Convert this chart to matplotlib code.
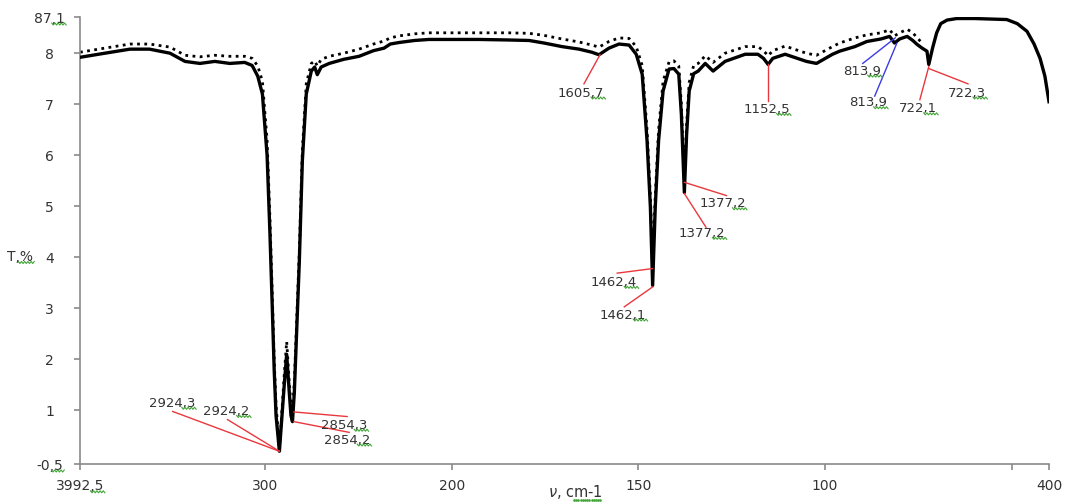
import numpy as np
import matplotlib
matplotlib.use("Agg")
import matplotlib.pyplot as plt
from matplotlib.lines import Line2D
from matplotlib.transforms import IdentityTransform

# ---- data ----
wavenumber = [3992.5, 3860, 3725, 3620, 3510, 3430, 3350, 3270, 3190, 3110, 3070, 3040, 3015,
              2990, 2975, 2962, 2952, 2942, 2933, 2924, 2912, 2898, 2885, 2872, 2862, 2854,
              2844, 2832, 2817, 2801, 2780, 2753, 2735, 2721, 2700, 2657, 2580, 2497, 2420,
              2363, 2330, 2283, 2200, 2123, 2000, 1927, 1850, 1793, 1753, 1705, 1659, 1625,
              1605.7, 1579, 1552, 1525, 1506, 1490, 1477, 1468, 1462, 1455, 1446, 1434, 1418,
              1405, 1392, 1385, 1377, 1371, 1364, 1352, 1340, 1321, 1300, 1268, 1214, 1180,
              1165, 1152.5, 1140, 1107, 1050, 1023, 980, 961, 920, 888, 850, 827, 813.9, 800,
              780, 765, 753, 740,
              727, 722.1, 712, 701, 690, 673, 647, 600, 513, 485, 459, 440, 424, 411, 400]

t_solid = [79.2, 80.0, 80.8, 80.8, 80.0, 78.4, 78.0, 78.4, 78.0, 78.2, 77.6, 75.5, 72.0,
           60.0, 45.0, 30.0, 18.0, 9.0, 5.5, 2.0, 8.0, 15.0, 21.0, 14.0, 9.0, 7.8,
           13.5, 25.0, 39.4, 58.9, 72.0, 76.5, 77.3, 75.8, 77.3, 78.0, 78.8, 79.4, 80.5,
           81.0, 81.8, 82.1, 82.5, 82.7, 82.7, 82.7, 82.6, 82.5, 82.0, 81.3, 80.8, 80.2,
           79.7, 81.0, 81.8, 81.6, 79.8, 75.9, 62.9, 49.8, 34.5, 49.8, 62.9, 72.6, 76.9,
           77.0, 75.9, 68.0, 52.7, 64.0, 72.6, 76.0, 76.5, 78.0, 76.5, 78.4, 79.8, 79.8,
           79.0, 77.8, 79.0, 79.8, 78.4, 78.0, 79.8, 80.4, 81.3, 82.3, 82.8, 83.3, 82.0, 82.8,
           83.3, 82.5, 81.7, 81.0,
           80.4, 77.8, 81.0, 84.0, 85.8, 86.5, 86.8, 86.8, 86.6, 85.8, 84.3, 81.8, 79.0, 75.5, 70.5]

t_dotted = [80.2, 81.0, 81.8, 81.8, 81.2, 79.6, 79.3, 79.6, 79.4, 79.4, 79.0, 77.5, 74.5,
            63.0, 48.0, 32.5, 20.0, 11.0, 7.0, 2.3, 9.0, 17.0, 23.5, 16.0, 11.0, 9.7,
            15.5, 27.0, 41.5, 61.0, 74.0, 78.0, 78.5, 77.5, 78.8, 79.4, 80.0, 80.8, 81.8,
            82.4, 83.0, 83.4, 83.8, 84.0, 84.0, 84.0, 84.0, 83.9, 83.5, 82.8, 82.2, 81.6,
            81.2, 82.3, 83.0, 82.9, 81.3, 77.6, 65.0, 52.0, 37.8, 52.0, 65.0, 74.5, 78.3,
            78.5, 77.5, 70.0, 54.7, 66.0, 74.3, 77.6, 78.0, 79.5, 78.2, 80.0, 81.3, 81.3,
            80.5, 79.5, 80.5, 81.4, 80.0, 79.6, 81.3, 82.0, 83.0, 83.6, 84.0, 84.6, 83.4, 84.0,
            84.7, 84.0, 83.0, 82.0]

x_ticks = [3992.5, 3000, 2000, 1500, 1000, 500, 400]
x_tick_labels = ['3992,5', '300', '200', '150', '100', '', '400']
y_ticks = [-0.5, 10, 20, 30, 40, 50, 60, 70, 80, 87.1]
y_tick_labels = ['-0,5', '1', '2', '3', '4', '5', '6', '7', '8', '87,1']

# peak annotations: text, peak (wn, T), line start (wn, T), text position (wn, T), colour
annotations = [
    ('2924,3', (2924, 2.0), (3496, 9.8), (3501, 11.4), 'red'),
    ('2924,2', (2924, 2.0), (3202, 8.2), (3207, 9.8), 'red'),
    ('2854,3', (2846, 9.7), (2561, 8.8), (2577, 7.1), 'red'),
    ('2854,2', (2846, 7.8), (2550, 5.7), (2561, 4.2), 'red'),
    ('1605,7', (1603, 79.7), (1646, 74.0), (1654, 72.2), 'red'),
    ('1462,4', (1462, 37.8), (1557, 36.9), (1565, 35.1), 'red'),
    ('1462,1', (1462, 34.2), (1538, 30.3), (1541, 28.7), 'red'),
    ('1377,2', (1377, 54.7), (1264, 52.1), (1275, 50.5), 'red'),
    ('1377,2', (1377, 52.5), (1319, 45.9), (1329, 44.7), 'red'),
    ('1152,5', (1152.5, 77.8), (1152.5, 70.6), (1157, 69.0), 'red'),
    ('813,9', (812, 83.0), (899, 78.0), (902, 76.5), 'blue'),
    ('813,9', (808, 81.9), (867, 71.6), (886, 70.3), 'blue'),
    ('722,1', (722, 77.4), (746, 70.9), (752, 69.1), 'red'),
    ('722,3', (722, 77.0), (617, 74.0), (620, 72.2), 'red'),
]
line_colors = {'red': '#e8383d', 'blue': '#3b3be6'}

# ---- figure ----
plt.rcParams['font.family'] = ['DejaVu Sans']
fig = plt.figure(figsize=(10.66, 5.04), dpi=100)
ax = fig.add_axes([80 / 1066, 40 / 504, 969 / 1066, 447 / 504])


def fwd(w):
    w = np.asarray(w, dtype=float)
    return np.where(w <= 2000, 2 * w, w + 2000)


def inv(u):
    u = np.asarray(u, dtype=float)
    return np.where(u <= 4000, u / 2, u - 2000)


ax.set_xscale('function', functions=(fwd, inv))

ax.plot(wavenumber[:len(t_dotted)], t_dotted, color='black', lw=2.0,
        linestyle=(0, (1, 1.6)), zorder=2)
ax.plot(wavenumber, t_solid, color='black', lw=2.4, solid_joinstyle='round', zorder=3)

label_texts = []
for text, peak, start, tpos, col in annotations:
    ax.plot([start[0], peak[0]], [start[1], peak[1]], color=line_colors[col], lw=1.0, zorder=4)
    label_texts.append(ax.text(tpos[0], tpos[1], text, ha='center', va='center',
                               fontsize=9.5, color='#333333', zorder=5))

ax.set_xlim(3992.5, 400)
ax.set_ylim(-0.5, 87.1)
ax.set_xticks(x_ticks)
ax.set_xticklabels(x_tick_labels)
ax.set_yticks(y_ticks)
ax.set_yticklabels(y_tick_labels)
ax.minorticks_off()

for s in ['top', 'right']:
    ax.spines[s].set_visible(False)
for s in ['left', 'bottom']:
    ax.spines[s].set_color('#8a8a8a')
    ax.spines[s].set_linewidth(1.2)

ax.tick_params(axis='x', direction='out', length=4, width=1.2, color='#8a8a8a',
               labelsize=10, labelcolor='#333333', pad=7)
ax.tick_params(axis='y', direction='out', length=4, width=1.2, color='#8a8a8a',
               labelsize=10, labelcolor='#333333', pad=18)
for lab in ax.get_yticklabels():
    lab.set_horizontalalignment('center')

xlab = fig.text(575 / 1066, 1 - 492 / 504, r'$\nu$, cm-1', ha='center', va='center',
                fontsize=10.5, color='#333333')
tlab = fig.text(20 / 1066, 1 - 257 / 504, 'T,%', ha='center', va='center',
                fontsize=10, color='#333333')

# green spell-check squiggles under the decimal parts (as in the source document)
fig.canvas.draw()
renderer = fig.canvas.get_renderer()
green = '#3fa535'


def squiggle(x0, x1, y):
    xs = np.arange(x0, x1, 1.6)
    ys = y + np.where(np.arange(len(xs)) % 2 == 0, 1.0, -1.0)
    fig.add_artist(Line2D(xs, ys, transform=IdentityTransform(), color=green, lw=0.8))


candidates = label_texts + list(ax.get_xticklabels()) + list(ax.get_yticklabels()) + [tlab]
for t in candidates:
    s = t.get_text()
    if ',' not in s:
        continue
    bb = t.get_window_extent(renderer)
    frac = (len(s) - s.index(',')) / len(s) * 0.85
    squiggle(bb.x1 - frac * bb.width, bb.x1 + 2, bb.y0 + 1.5)

bb = xlab.get_window_extent(renderer)
xs = np.arange(bb.x1 - 0.52 * bb.width, bb.x1, 2.2)
fig.add_artist(Line2D(xs, np.full(len(xs), bb.y0 + 1.5), transform=IdentityTransform(),
                      color=green, lw=0, marker='o', markersize=0.9))

fig.savefig('out.png', dpi=100)
